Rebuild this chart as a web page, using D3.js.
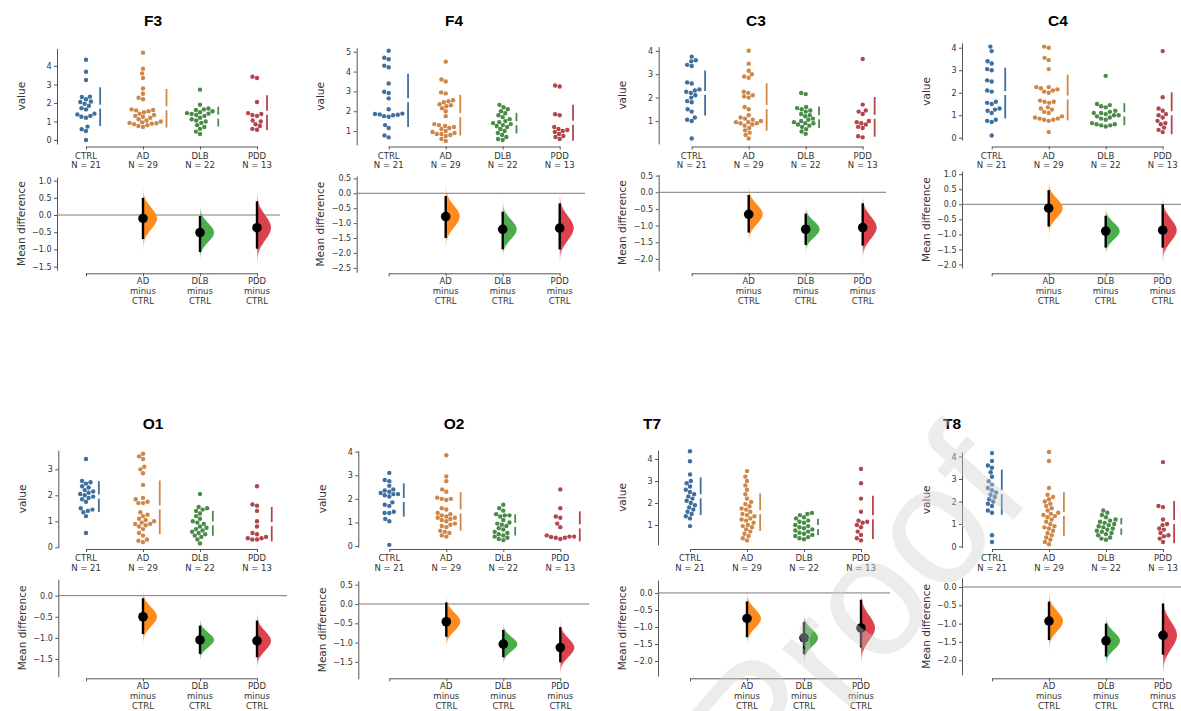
<!DOCTYPE html>
<html>
<head>
<meta charset="utf-8">
<script src="https://cdn.jsdelivr.net/npm/d3@7"></script>
<style>
  body { margin: 0; background: #fff; }
  svg { display: block; font-family: "DejaVu Sans", sans-serif; }
</style>
</head>
<body>
<svg id="chart" width="1181" height="711"></svg>
<script>
// ---- data -------------------------------------------------------------
const groups = ["CTRL", "AD", "DLB", "PDD"];
const channels = ["F3", "F4", "C3", "C4", "O1", "O2", "T7", "T8"];

// observed values per channel, one array per group (CTRL, AD, DLB, PDD)
const valuesF3 = [
  [4.34,3.69,3.24,2.34,2.32,2.2,2.08,2.05,1.95,1.85,1.72,1.65,1.42,1.38,1.3,1.25,1.2,0.72,0.58,0.48,0.0],
  [4.72,3.85,3.6,3.35,2.78,2.5,2.28,2.2,1.65,1.62,1.6,1.55,1.5,1.42,1.35,1.3,1.25,1.2,1.12,1.05,1.0,0.95,0.92,0.9,0.88,0.85,0.8,0.75,0.7],
  [2.72,1.9,1.7,1.65,1.62,1.55,1.5,1.45,1.42,1.4,1.35,1.3,1.2,1.12,1.05,1.0,0.92,0.8,0.7,0.6,0.45,0.32],
  [3.42,3.35,2.05,1.45,1.4,1.35,1.3,1.05,1.0,0.85,0.75,0.6,0.55]
];
const valuesF4 = [
  [5.05,4.7,4.62,4.3,4.22,3.4,2.98,2.92,2.65,2.1,1.88,1.86,1.84,1.82,1.8,1.75,1.72,1.3,1.15,0.78,0.68],
  [4.5,3.6,3.5,2.95,2.9,2.55,2.5,2.45,2.35,2.3,2.25,2.15,2.0,1.75,1.35,1.3,1.25,1.2,1.15,1.1,1.0,0.95,0.9,0.85,0.85,0.8,0.75,0.6,0.5],
  [2.32,2.2,2.1,2.0,1.9,1.8,1.7,1.6,1.5,1.45,1.4,1.35,1.3,1.25,1.2,1.1,1.0,0.9,0.8,0.7,0.6,0.55],
  [3.3,3.25,1.85,1.8,1.2,1.1,1.05,1.0,0.95,0.85,0.75,0.7,0.6]
];
const valuesC3 = [
  [3.75,3.6,3.55,3.4,3.35,2.65,2.6,2.35,2.3,2.25,2.2,2.1,2.0,1.85,1.8,1.5,1.4,1.15,1.05,1.0,0.25],
  [4.0,3.45,3.15,3.0,2.9,2.85,2.25,2.2,2.1,2.05,2.0,1.6,1.5,1.25,1.15,1.1,1.05,1.0,0.95,0.95,0.9,0.9,0.85,0.8,0.7,0.6,0.5,0.4,0.25],
  [2.2,2.15,1.6,1.55,1.5,1.45,1.4,1.3,1.25,1.2,1.1,1.05,1.0,0.95,0.9,0.9,0.85,0.8,0.75,0.65,0.55,0.45],
  [3.65,1.7,1.45,1.4,1.3,1.0,0.95,0.9,0.85,0.75,0.7,0.35,0.3]
];
const valuesC4 = [
  [4.05,3.85,3.4,3.3,3.05,3.0,2.55,2.5,2.1,2.05,1.6,1.55,1.5,1.3,1.25,1.2,1.1,0.8,0.75,0.7,0.1],
  [4.05,4.0,3.55,3.45,3.05,2.25,2.25,2.2,2.15,2.1,2.05,2.0,1.65,1.6,1.6,1.55,1.35,1.3,1.25,1.15,1.1,0.95,0.9,0.85,0.85,0.8,0.8,0.75,0.25],
  [2.75,1.5,1.45,1.4,1.35,1.2,1.15,1.1,1.1,1.05,1.0,1.0,0.95,0.9,0.85,0.8,0.65,0.6,0.6,0.55,0.55,0.5],
  [3.85,1.8,1.3,1.2,1.05,1.0,0.9,0.75,0.65,0.6,0.45,0.35,0.25]
];
const valuesO1 = [
  [3.4,2.55,2.5,2.45,2.35,2.3,2.2,2.15,2.1,2.05,2.0,1.95,1.9,1.85,1.75,1.5,1.45,1.4,1.35,1.2,0.55],
  [3.6,3.5,3.4,3.1,3.0,2.85,2.4,1.9,1.85,1.75,1.7,1.7,1.35,1.25,1.2,1.1,1.05,1.0,0.95,0.9,0.9,0.85,0.8,0.7,0.55,0.45,0.3,0.25,0.2],
  [2.05,1.55,1.5,1.45,1.4,1.3,1.2,1.1,1.0,0.95,0.9,0.8,0.75,0.7,0.65,0.6,0.55,0.5,0.45,0.4,0.3,0.15],
  [2.35,1.65,1.6,1.4,1.0,0.8,0.55,0.5,0.4,0.35,0.35,0.3,0.3]
];
const valuesO2 = [
  [3.1,2.8,2.75,2.55,2.4,2.35,2.3,2.25,2.2,2.2,2.15,2.1,1.85,1.75,1.7,1.45,1.4,1.4,1.15,1.05,0.05],
  [3.85,2.95,2.75,2.4,2.3,2.05,2.0,2.0,1.95,1.6,1.55,1.4,1.35,1.3,1.25,1.2,1.2,1.15,1.1,1.05,0.95,0.9,0.85,0.8,0.65,0.6,0.55,0.45,0.4],
  [1.75,1.6,1.5,1.35,1.3,1.3,1.25,1.1,1.0,0.95,0.9,0.85,0.75,0.7,0.6,0.55,0.5,0.45,0.4,0.35,0.3,0.25],
  [2.4,1.6,1.25,1.2,0.95,0.8,0.45,0.4,0.4,0.38,0.35,0.35,0.3]
];
const valuesT7 = [
  [4.35,3.9,3.3,3.0,2.9,2.75,2.6,2.5,2.4,2.3,2.2,2.1,2.0,1.9,1.8,1.7,1.6,1.5,1.4,1.3,0.95],
  [3.45,3.2,3.0,2.8,2.6,2.4,2.2,2.05,1.95,1.85,1.75,1.7,1.6,1.5,1.45,1.4,1.3,1.25,1.2,1.1,1.0,0.95,0.9,0.8,0.7,0.6,0.5,0.4,0.3],
  [1.55,1.5,1.45,1.35,1.3,1.2,1.15,1.1,1.0,0.95,0.9,0.85,0.8,0.75,0.7,0.65,0.6,0.55,0.5,0.45,0.4,0.35],
  [3.55,2.9,2.2,1.6,1.2,1.15,1.1,1.0,0.9,0.7,0.55,0.4,0.3]
];
const valuesT8 = [
  [4.15,3.8,3.6,3.5,3.3,3.1,2.9,2.75,2.6,2.5,2.4,2.3,2.2,2.1,2.0,1.9,1.8,1.6,1.5,0.5,0.2],
  [4.2,3.8,2.6,2.3,2.2,2.1,2.0,1.9,1.8,1.7,1.6,1.5,1.45,1.4,1.35,1.3,1.2,1.1,1.0,0.9,0.85,0.8,0.7,0.6,0.5,0.4,0.3,0.2,0.1],
  [1.6,1.5,1.4,1.3,1.2,1.15,1.1,1.05,1.0,0.95,0.9,0.85,0.8,0.75,0.7,0.65,0.6,0.55,0.5,0.4,0.35,0.3],
  [3.75,1.8,1.75,1.2,1.0,0.95,0.8,0.75,0.6,0.5,0.45,0.35,0.2]
];
const groupValues = { F3: valuesF3, F4: valuesF4, C3: valuesC3, C4: valuesC4,
                      O1: valuesO1, O2: valuesO2, T7: valuesT7, T8: valuesT8 };

// mean difference vs CTRL with 95% CI, for AD, DLB, PDD
const meanDiff = {
  F3: [-0.10, -0.51, -0.37], F4: [-0.78, -1.21, -1.17], C3: [-0.66, -1.11, -1.06], C4: [-0.13, -0.89, -0.86],
  O1: [-0.50, -1.05, -1.07], O2: [-0.46, -1.04, -1.13], T7: [-0.75, -1.32, -1.03], T8: [-0.93, -1.47, -1.32]
};
const ciLow = {
  F3: [-0.70, -1.08, -0.98], F4: [-1.50, -1.88, -1.88], C3: [-1.21, -1.58, -1.60], C4: [-0.74, -1.44, -1.44],
  O1: [-0.91, -1.38, -1.46], O2: [-0.85, -1.38, -1.51], T7: [-1.30, -1.80, -1.60], T8: [-1.45, -1.90, -1.85]
};
const ciHigh = {
  F3: [0.50, -0.03, 0.40], F4: [-0.09, -0.62, -0.34], C3: [-0.08, -0.64, -0.33], C4: [0.47, -0.38, 0.00],
  O1: [-0.06, -0.71, -0.59], O2: [0.04, -0.67, -0.60], T7: [-0.25, -0.85, -0.20], T8: [-0.40, -1.00, -0.45]
};

// tick labels
const valueTicks = { F3: [0,1,2,3,4], F4: [1,2,3,4,5], C3: [1,2,3,4], C4: [0,1,2,3,4],
                     O1: [0,1,2,3], O2: [0,1,2,3,4], T7: [1,2,3,4], T8: [0,1,2,3,4] };
const diffTicks = {
  F3: [-1.5,-1,-0.5,0,0.5,1], F4: [-2.5,-2,-1.5,-1,-0.5,0,0.5], C3: [-2,-1.5,-1,-0.5,0,0.5],
  C4: [-2,-1.5,-1,-0.5,0,0.5,1], O1: [-1.5,-1,-0.5,0], O2: [-1.5,-1,-0.5,0,0.5],
  T7: [-2,-1.5,-1,-0.5,0], T8: [-2,-1.5,-1,-0.5,0]
};

// ---- layout -----------------------------------------------------------
const layout = {
  F3: { row: 0, axisX: 57,    ctrlX: 86,    titleX: 153,  top: [[-0.22, 4.95], [144, 48.4]],  diff: [[-1.6, 1.1],   [270, 177.2]],   zeroEnd: 280 },
  F4: { row: 0, axisX: 356.7, ctrlX: 388.7, titleX: 454,  top: [[0.3, 5.2],   [144.9, 47.8]], diff: [[-2.65, 0.58], [272.3, 176]],   zeroEnd: 585 },
  C3: { row: 0, axisX: 658.7, ctrlX: 691.7, titleX: 756,  top: [[0.02, 4.18], [143.9, 46.6]], diff: [[-2.36, 0.54], [270.9, 174.3]], zeroEnd: 886 },
  C4: { row: 0, axisX: 962,   ctrlX: 991.7, titleX: 1058, top: [[-0.1, 4.22], [140, 42.75]],  diff: [[-2.12, 1.1],  [268.1, 171.2]], zeroEnd: 1181 },
  O1: { row: 1, axisX: 58.3,  ctrlX: 86,    titleX: 153,  top: [[-0.02, 3.74], [547.8, 450.1]], diff: [[-1.92, 0.39], [676.7, 579.2]], zeroEnd: 287 },
  O2: { row: 1, axisX: 358.3, ctrlX: 389.3, titleX: 454,  top: [[-0.05, 4.04], [547.2, 450.7]], diff: [[-1.94, 0.6],  [678.9, 580.8]], zeroEnd: 589 },
  T7: { row: 1, axisX: 658,   ctrlX: 690,   titleX: 652,  top: [[0.1, 4.4],   [544.8, 450.2]], diff: [[-2.44, 0.38], [676, 580]],     zeroEnd: 890 },
  T8: { row: 1, axisX: 962,   ctrlX: 992,   titleX: 952,  top: [[-0.05, 4.2], [547.6, 452]],   diff: [[-2.4, 0.25],  [674.8, 577.9]], zeroEnd: 1181 }
};
const rows = [
  { title: 25.5, valueAxis: 146.5, diffAxis: 273.3 },
  { title: 428.5, valueAxis: 549, diffAxis: 678.3 }
];
const groupStep = 57;
const swarmColors = ["#3e6f9f", "#cf8748", "#4a8b4a", "#b4464b"];
const violinColors = ["#3e6f9f", "#ff8b1f", "#4bad4c", "#db424b"];
const dotR = 2.2;
const violinWidth = 14;

const svg = d3.select("#chart");
const defs = svg.append("defs");

// simple beeswarm: place each point as close to the group centre as possible
function beeswarm(vals, y, r) {
  const d = 2 * r + 0.3;
  const pts = vals.map(v => ({ v, y: y(v), dx: 0 })).sort((a, b) => b.y - a.y);
  const placed = [];
  for (const p of pts) {
    const near = placed.filter(q => Math.abs(q.y - p.y) < d);
    const cands = [0];
    for (const q of near) {
      const h = Math.sqrt(d * d - (q.y - p.y) ** 2);
      cands.push(q.dx + h, q.dx - h);
    }
    cands.sort((a, b) => Math.abs(a) - Math.abs(b) || a - b);
    for (const c of cands) {
      if (near.every(q => (q.dx - c) ** 2 + (q.y - p.y) ** 2 >= d * d - 1e-6)) { p.dx = c; break; }
    }
    placed.push(p);
  }
  return placed;
}

function styleAxis(sel, fontSize) {
  sel.select(".domain").attr("stroke", "#555").attr("stroke-width", 1);
  sel.selectAll(".tick line").attr("stroke", "#555");
  sel.selectAll(".tick text").attr("fill", "#333").attr("font-size", fontSize)
     .attr("font-family", "DejaVu Sans, sans-serif");
}

let gradId = 0;

function drawPanel(name) {
  const L = layout[name];
  const R = rows[L.row];
  const g = svg.append("g").attr("class", "panel-" + name);
  const vals = groupValues[name];

  const x = d3.scalePoint().domain(groups).range([L.ctrlX, L.ctrlX + 3 * groupStep]);
  const yTop = d3.scaleLinear().domain(L.top[0]).range(L.top[1]);
  const yDiff = d3.scaleLinear().domain(L.diff[0]).range(L.diff[1]);

  // title
  g.append("text")
    .attr("x", L.titleX).attr("y", R.title)
    .attr("text-anchor", "middle")
    .attr("font-family", "Liberation Sans, Arial, sans-serif")
    .attr("font-weight", "bold").attr("font-size", 15.5)
    .attr("fill", "#000")
    .text(name);

  // ---- raw data (swarm) ----
  const ay = g.append("g").attr("transform", `translate(${L.axisX},0)`)
    .call(d3.axisLeft(yTop).tickValues(valueTicks[name]).tickFormat(d3.format("d"))
      .tickSize(3).tickPadding(2.5).tickSizeOuter(0));
  styleAxis(ay, 8);

  const ax = g.append("g").attr("transform", `translate(0,${R.valueAxis})`)
    .call(d3.axisBottom(x).tickSize(3).tickSizeOuter(0).tickFormat(() => ""));
  styleAxis(ax, 8.5);

  groups.forEach((grp, i) => {
    const cx = x(grp);
    g.append("text").attr("x", cx).attr("y", R.valueAxis + 12)
      .attr("text-anchor", "middle").attr("font-size", 8.5).attr("fill", "#333").text(grp);
    g.append("text").attr("x", cx).attr("y", R.valueAxis + 21.5)
      .attr("text-anchor", "middle").attr("font-size", 8.5).attr("fill", "#333")
      .text("N = " + vals[i].length);
  });

  g.append("text")
    .attr("transform", `translate(${L.axisX - 36.5},${(L.top[1][0] + L.top[1][1]) / 2}) rotate(-90)`)
    .attr("text-anchor", "middle").attr("dominant-baseline", "central")
    .attr("font-size", 10.5).attr("fill", "#333").text("value");

  groups.forEach((grp, i) => {
    const pts = beeswarm(vals[i], yTop, dotR);
    const cx = x(grp);
    g.append("g").selectAll("circle").data(pts).join("circle")
      .attr("cx", p => cx + p.dx).attr("cy", p => p.y).attr("r", dotR)
      .attr("fill", swarmColors[i]);

    // mean ± SD as a gapped line beside the swarm
    const m = d3.mean(vals[i]);
    const sd = d3.deviation(vals[i]);
    const lx = cx + d3.max(pts, p => p.dx) + dotR + 3.5;
    const gap = 2;
    g.append("line").attr("x1", lx).attr("x2", lx)
      .attr("y1", yTop(m + sd)).attr("y2", yTop(m) - gap)
      .attr("stroke", swarmColors[i]).attr("stroke-width", 1.8);
    g.append("line").attr("x1", lx).attr("x2", lx)
      .attr("y1", yTop(m) + gap).attr("y2", yTop(m - sd))
      .attr("stroke", swarmColors[i]).attr("stroke-width", 1.8);
  });

  // ---- mean differences ----
  const ad = g.append("g").attr("transform", `translate(${L.axisX},0)`)
    .call(d3.axisLeft(yDiff).tickValues(diffTicks[name]).tickFormat(d3.format(".1f"))
      .tickSize(3).tickPadding(2.5).tickSizeOuter(0));
  styleAxis(ad, 8);

  g.append("line")
    .attr("x1", L.axisX).attr("x2", L.zeroEnd)
    .attr("y1", yDiff(0)).attr("y2", yDiff(0))
    .attr("stroke", "#7a7a7a").attr("stroke-width", 1);

  const bx = g.append("g").attr("transform", `translate(0,${R.diffAxis})`)
    .call(d3.axisBottom(x).tickSize(3).tickSizeOuter(0).tickFormat(() => ""));
  styleAxis(bx, 8.5);

  groups.slice(1).forEach((grp, j) => {
    const cx = x(grp);
    [grp, "minus", "CTRL"].forEach((t, k) => {
      g.append("text").attr("x", cx).attr("y", R.diffAxis + 11 + k * 10)
        .attr("text-anchor", "middle").attr("font-size", 8.5).attr("fill", "#333").text(t);
    });
  });

  g.append("text")
    .attr("transform", `translate(${L.axisX - 36.5},${(L.diff[1][0] + L.diff[1][1]) / 2}) rotate(-90)`)
    .attr("text-anchor", "middle").attr("dominant-baseline", "central")
    .attr("font-size", 10.5).attr("fill", "#333").text("Mean difference");

  groups.slice(1).forEach((grp, j) => {
    const i = j + 1;
    const cx = x(grp);
    const md = meanDiff[name][j], lo = ciLow[name][j], hi = ciHigh[name][j];
    // normal approximation of the bootstrap distribution from the CI
    const sigma = (hi - lo) / 3.92;
    const span = 4 * sigma;
    const grid = d3.range(0, 81).map(k => md - span + (2 * span * k) / 80);
    const id = "grad" + (gradId++);
    const grad = defs.append("linearGradient").attr("id", id)
      .attr("gradientUnits", "userSpaceOnUse")
      .attr("x1", 0).attr("x2", 0)
      .attr("y1", yDiff(md + span)).attr("y2", yDiff(md - span));
    [[0, 0], [0.1, 0.12], [0.22, 0.55], [0.32, 1], [0.68, 1], [0.78, 0.55], [0.9, 0.12], [1, 0]]
      .forEach(([o, a]) => grad.append("stop").attr("offset", o)
        .attr("stop-color", violinColors[i]).attr("stop-opacity", a));

    const area = d3.area()
      .y(v => yDiff(v))
      .x0(cx)
      .x1(v => cx + violinWidth * Math.exp(-0.5 * ((v - md) / sigma) ** 2))
      .curve(d3.curveBasis);
    g.append("path").datum(grid).attr("d", area).attr("fill", `url(#${id})`);

    g.append("line").attr("x1", cx).attr("x2", cx)
      .attr("y1", yDiff(lo)).attr("y2", yDiff(hi))
      .attr("stroke", "#000").attr("stroke-width", 2.4);
    g.append("circle").attr("cx", cx).attr("cy", yDiff(md)).attr("r", 4.8).attr("fill", "#000");
  });
}

channels.forEach(drawPanel);

// watermark across the lower right
svg.append("text")
  .attr("transform", "translate(768,802) rotate(-49)")
  .attr("font-family", "Liberation Sans, Arial, sans-serif")
  .attr("font-size", 170)
  .attr("fill", "#cfcfcf").attr("fill-opacity", 0.4)
  .text("Proof");
</script>
</body>
</html>
